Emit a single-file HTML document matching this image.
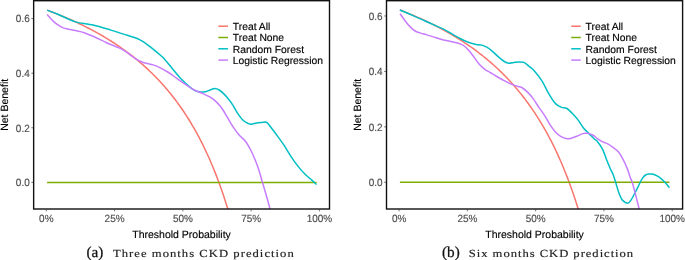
<!DOCTYPE html><html><head><meta charset="utf-8"><title>Decision curves</title>
<style>html,body{margin:0;padding:0;background:#fff}svg{display:block;will-change:transform}text{text-rendering:geometricPrecision}.ax{font-family:"Liberation Sans",Arial,sans-serif;font-size:10.5px;fill:#4d4d4d;stroke:#4d4d4d;stroke-width:0.15px}.tt{font-family:"Liberation Sans",Arial,sans-serif;font-size:10.5px;fill:#000;stroke:#000;stroke-width:0.14px}.lg{font-family:"Liberation Sans",Arial,sans-serif;font-size:10.35px;fill:#000;stroke:#000;stroke-width:0.15px}.tag{font-family:"Liberation Serif","Times New Roman",serif;font-size:15.2px;fill:#111;stroke:#111;stroke-width:0.25px}.cap{font-family:"Liberation Serif","Times New Roman",serif;font-size:10.8px;fill:#222;stroke:#222;stroke-width:0.15px}</style></head><body>
<svg width="685" height="260" viewBox="0 0 685 260">
<rect width="685" height="260" fill="#fff"/>
<clipPath id="c0"><rect x="33.65" y="0.70" width="295.85" height="208.30"/></clipPath>
<g clip-path="url(#c0)" fill="none" stroke-width="1.50" stroke-linejoin="round" stroke-linecap="butt">
<path d="M47.12,10.17 L48.48,10.67 L49.85,11.19 L51.22,11.71 L52.58,12.23 L53.95,12.76 L55.31,13.29 L56.68,13.83 L58.04,14.38 L59.41,14.93 L60.77,15.49 L62.14,16.05 L63.51,16.62 L64.87,17.19 L66.24,17.78 L67.60,18.36 L68.97,18.96 L70.33,19.56 L71.70,20.17 L73.06,20.78 L74.43,21.40 L75.79,22.03 L77.16,22.66 L78.53,23.30 L79.89,23.95 L81.26,24.61 L82.62,25.28 L83.99,25.95 L85.35,26.63 L86.72,27.32 L88.08,28.01 L89.45,28.72 L90.82,29.43 L92.18,30.15 L93.55,30.88 L94.91,31.62 L96.28,32.37 L97.64,33.12 L99.01,33.89 L100.37,34.67 L101.74,35.45 L103.10,36.25 L104.47,37.05 L105.84,37.87 L107.20,38.70 L108.57,39.53 L109.93,40.38 L111.30,41.24 L112.66,42.11 L114.03,43.00 L115.39,43.89 L116.76,44.80 L118.13,45.71 L119.49,46.65 L120.86,47.59 L122.22,48.55 L123.59,49.52 L124.95,50.50 L126.32,51.50 L127.68,52.51 L129.05,53.54 L130.41,54.58 L131.78,55.64 L133.15,56.71 L134.51,57.80 L135.88,58.90 L137.24,60.02 L138.61,61.16 L139.97,62.31 L141.34,63.49 L142.70,64.68 L144.07,65.89 L145.44,67.11 L146.80,68.36 L148.17,69.63 L149.53,70.92 L150.90,72.23 L152.26,73.56 L153.63,74.91 L154.99,76.28 L156.36,77.68 L157.72,79.10 L159.09,80.55 L160.46,82.02 L161.82,83.51 L163.19,85.04 L164.55,86.59 L165.92,88.16 L167.28,89.77 L168.65,91.40 L170.01,93.06 L171.38,94.76 L172.75,96.48 L174.11,98.24 L175.48,100.03 L176.84,101.86 L178.21,103.72 L179.57,105.62 L180.94,107.55 L182.30,109.53 L183.67,111.54 L185.03,113.60 L186.40,115.69 L187.77,117.83 L189.13,120.02 L190.50,122.25 L191.86,124.53 L193.23,126.85 L194.59,129.23 L195.96,131.67 L197.32,134.15 L198.69,136.69 L200.06,139.29 L201.42,141.96 L202.79,144.68 L204.15,147.47 L205.52,150.32 L206.88,153.24 L208.25,156.24 L209.61,159.31 L210.98,162.46 L212.34,165.69 L213.71,169.00 L215.08,172.39 L216.44,175.88 L217.81,179.46 L219.17,183.14 L220.54,186.92 L221.90,190.81 L223.27,194.81 L224.63,198.92 L226.00,203.15 L227.37,207.51 L228.73,212.00 L230.10,216.63" stroke="#F8766D"/>
<path d="M47.12,182.40 L316.67,182.40" stroke="#7CAE00"/>
<path d="M47.10,10.16 C48.87,10.84 52.98,12.29 57.70,14.24 C62.42,16.19 69.50,20.04 75.40,21.85 C81.30,23.66 87.20,23.72 93.10,25.10 C99.00,26.48 105.23,28.45 110.80,30.10 C116.37,31.75 122.10,33.60 126.50,35.00 C130.90,36.40 134.25,37.27 137.20,38.50 C140.15,39.73 141.55,40.63 144.20,42.40 C146.85,44.17 150.15,46.75 153.10,49.10 C156.05,51.45 159.85,54.65 161.90,56.50 C163.95,58.35 163.67,58.22 165.40,60.20 C167.13,62.18 169.87,65.47 172.30,68.40 C174.73,71.33 177.68,75.22 180.00,77.80 C182.32,80.38 184.40,82.22 186.20,83.90 C188.00,85.58 189.27,86.75 190.80,87.90 C192.33,89.05 193.87,90.12 195.40,90.80 C196.93,91.48 198.20,91.88 200.00,92.00 C201.80,92.12 204.40,91.88 206.20,91.50 C208.00,91.12 209.40,90.18 210.80,89.70 C212.20,89.22 213.20,88.55 214.60,88.60 C216.00,88.65 217.53,89.00 219.20,90.00 C220.87,91.00 222.90,92.90 224.60,94.60 C226.30,96.30 227.97,98.35 229.40,100.20 C230.83,102.05 231.90,103.62 233.20,105.70 C234.50,107.78 235.65,110.35 237.20,112.70 C238.75,115.05 240.73,118.03 242.50,119.80 C244.27,121.57 246.33,122.57 247.80,123.30 C249.27,124.03 249.83,124.25 251.30,124.20 C252.77,124.15 254.83,123.30 256.60,123.00 C258.37,122.70 260.42,122.55 261.90,122.40 C263.38,122.25 264.47,121.88 265.50,122.10 C266.53,122.32 266.92,122.47 268.10,123.70 C269.28,124.93 270.97,127.35 272.60,129.50 C274.23,131.65 275.95,133.92 277.90,136.60 C279.85,139.28 282.05,142.18 284.30,145.60 C286.55,149.02 289.03,153.55 291.40,157.10 C293.77,160.65 296.13,163.95 298.50,166.90 C300.87,169.85 303.38,172.60 305.60,174.80 C307.82,177.00 309.98,178.48 311.80,180.10 C313.62,181.72 315.72,183.77 316.50,184.50" stroke="#00BFC4"/>
<path d="M47.10,14.50 C48.28,15.77 51.85,20.03 54.20,22.10 C56.55,24.17 59.15,25.78 61.20,26.90 C63.25,28.02 64.13,28.18 66.50,28.80 C68.87,29.42 72.45,29.95 75.40,30.60 C78.35,31.25 81.25,31.75 84.20,32.70 C87.15,33.65 90.15,35.02 93.10,36.30 C96.05,37.58 99.28,39.15 101.90,40.40 C104.52,41.65 106.17,42.65 108.80,43.80 C111.43,44.95 115.33,46.30 117.70,47.30 C120.07,48.30 120.93,48.55 123.00,49.80 C125.07,51.05 128.03,53.32 130.10,54.80 C132.17,56.28 133.63,57.58 135.40,58.70 C137.17,59.82 138.93,60.73 140.70,61.50 C142.47,62.27 143.93,62.73 146.00,63.30 C148.07,63.87 150.97,64.27 153.10,64.90 C155.23,65.53 156.37,65.92 158.80,67.10 C161.23,68.28 164.75,70.15 167.70,72.00 C170.65,73.85 173.55,76.13 176.50,78.20 C179.45,80.27 182.45,82.43 185.40,84.40 C188.35,86.37 191.25,88.47 194.20,90.00 C197.15,91.53 200.43,92.40 203.10,93.60 C205.77,94.80 208.13,95.95 210.20,97.20 C212.27,98.45 213.88,99.68 215.50,101.10 C217.12,102.52 218.65,104.22 219.90,105.70 C221.15,107.18 221.60,107.80 223.00,110.00 C224.40,112.20 226.53,115.95 228.30,118.90 C230.07,121.85 231.83,125.05 233.60,127.70 C235.37,130.35 236.93,132.55 238.90,134.80 C240.87,137.05 243.43,138.67 245.40,141.20 C247.37,143.73 249.08,146.90 250.70,150.00 C252.32,153.10 253.77,156.55 255.10,159.80 C256.43,163.05 257.52,165.88 258.70,169.50 C259.88,173.12 260.88,177.00 262.20,181.50 C263.52,186.00 265.33,192.08 266.60,196.50 C267.87,200.92 269.18,205.75 269.80,208.00 C270.42,210.25 270.22,209.67 270.30,210.00" stroke="#C77CFF"/>
</g>
<rect x="33.65" y="0.70" width="295.85" height="208.30" fill="none" stroke="#111" stroke-width="1.4"/>
<path d="M46.30,209.50 v1.8" stroke="#333" stroke-width="0.7"/>
<text class="ax" transform="translate(46.30,222.0) scale(0.95,1)" text-anchor="middle">0%</text>
<path d="M114.58,209.50 v1.8" stroke="#333" stroke-width="0.7"/>
<text class="ax" transform="translate(114.58,222.0) scale(0.95,1)" text-anchor="middle">25%</text>
<path d="M182.85,209.50 v1.8" stroke="#333" stroke-width="0.7"/>
<text class="ax" transform="translate(182.85,222.0) scale(0.95,1)" text-anchor="middle">50%</text>
<path d="M251.12,209.50 v1.8" stroke="#333" stroke-width="0.7"/>
<text class="ax" transform="translate(251.12,222.0) scale(0.95,1)" text-anchor="middle">75%</text>
<path d="M319.40,209.50 v1.8" stroke="#333" stroke-width="0.7"/>
<text class="ax" transform="translate(319.40,222.0) scale(0.95,1)" text-anchor="middle">100%</text>
<path d="M33.15,182.40 h-1.8" stroke="#333" stroke-width="0.7"/>
<text class="ax" transform="translate(29.75,186.25) scale(0.95,1)" text-anchor="end">0.0</text>
<path d="M33.15,127.80 h-1.8" stroke="#333" stroke-width="0.7"/>
<text class="ax" transform="translate(29.75,131.65) scale(0.95,1)" text-anchor="end">0.2</text>
<path d="M33.15,73.20 h-1.8" stroke="#333" stroke-width="0.7"/>
<text class="ax" transform="translate(29.75,77.05) scale(0.95,1)" text-anchor="end">0.4</text>
<path d="M33.15,18.60 h-1.8" stroke="#333" stroke-width="0.7"/>
<text class="ax" transform="translate(29.75,22.45) scale(0.95,1)" text-anchor="end">0.6</text>
<text class="tt" x="181.57" y="237.7" text-anchor="middle">Threshold Probability</text>
<text class="tt" transform="translate(8.35,104.85) rotate(-90)" text-anchor="middle">Net Benefit</text>
<path d="M218.35,26.20 h9.6" stroke="#F8766D" stroke-width="1.50"/>
<text class="lg" x="232.75" y="29.90">Treat All</text>
<path d="M218.35,37.50 h9.6" stroke="#7CAE00" stroke-width="1.50"/>
<text class="lg" x="232.75" y="41.20">Treat None</text>
<path d="M218.35,48.80 h9.6" stroke="#00BFC4" stroke-width="1.50"/>
<text class="lg" x="232.75" y="52.50">Random Forest</text>
<path d="M218.35,60.10 h9.6" stroke="#C77CFF" stroke-width="1.50"/>
<text class="lg" x="232.75" y="63.80">Logistic Regression</text>
<text class="tag" x="86.50" y="256.8">(a)</text>
<text class="cap" transform="translate(113.00,256.8) scale(1.170,1)" textLength="154.5" lengthAdjust="spacing">Three months CKD prediction</text>
<clipPath id="c1"><rect x="386.50" y="0.70" width="296.10" height="208.30"/></clipPath>
<g clip-path="url(#c1)" fill="none" stroke-width="1.50" stroke-linejoin="round" stroke-linecap="butt">
<path d="M399.92,10.00 L401.28,10.53 L402.65,11.07 L404.02,11.60 L405.38,12.15 L406.75,12.70 L408.11,13.26 L409.48,13.82 L410.84,14.39 L412.21,14.96 L413.57,15.54 L414.94,16.13 L416.31,16.72 L417.67,17.32 L419.04,17.92 L420.40,18.54 L421.77,19.15 L423.13,19.78 L424.50,20.41 L425.86,21.05 L427.23,21.70 L428.59,22.35 L429.96,23.01 L431.33,23.68 L432.69,24.36 L434.06,25.04 L435.42,25.73 L436.79,26.43 L438.15,27.14 L439.52,27.86 L440.88,28.58 L442.25,29.31 L443.62,30.06 L444.98,30.81 L446.35,31.57 L447.71,32.34 L449.08,33.11 L450.44,33.90 L451.81,34.70 L453.17,35.51 L454.54,36.33 L455.90,37.16 L457.27,37.99 L458.64,38.84 L460.00,39.70 L461.37,40.58 L462.73,41.46 L464.10,42.35 L465.46,43.26 L466.83,44.18 L468.19,45.11 L469.56,46.05 L470.93,47.01 L472.29,47.98 L473.66,48.96 L475.02,49.96 L476.39,50.97 L477.75,51.99 L479.12,53.03 L480.48,54.09 L481.85,55.15 L483.21,56.24 L484.58,57.34 L485.95,58.45 L487.31,59.59 L488.68,60.74 L490.04,61.90 L491.41,63.09 L492.77,64.29 L494.14,65.51 L495.50,66.75 L496.87,68.01 L498.24,69.29 L499.60,70.59 L500.97,71.91 L502.33,73.25 L503.70,74.61 L505.06,75.99 L506.43,77.40 L507.79,78.83 L509.16,80.29 L510.52,81.77 L511.89,83.27 L513.26,84.80 L514.62,86.36 L515.99,87.95 L517.35,89.56 L518.72,91.20 L520.08,92.87 L521.45,94.57 L522.81,96.30 L524.18,98.07 L525.55,99.86 L526.91,101.69 L528.28,103.56 L529.64,105.46 L531.01,107.40 L532.37,109.37 L533.74,111.39 L535.10,113.44 L536.47,115.54 L537.83,117.68 L539.20,119.86 L540.57,122.09 L541.93,124.36 L543.30,126.68 L544.66,129.06 L546.03,131.48 L547.39,133.96 L548.76,136.49 L550.12,139.08 L551.49,141.72 L552.86,144.43 L554.22,147.20 L555.59,150.04 L556.95,152.94 L558.32,155.91 L559.68,158.95 L561.05,162.07 L562.41,165.27 L563.78,168.54 L565.14,171.91 L566.51,175.35 L567.88,178.89 L569.24,182.52 L570.61,186.25 L571.97,190.08 L573.34,194.02 L574.70,198.06 L576.07,202.22 L577.43,206.51 L578.80,210.91 L580.17,215.45" stroke="#F8766D"/>
<path d="M399.92,182.30 L669.47,182.30" stroke="#7CAE00"/>
<path d="M399.80,9.96 C402.02,10.90 408.97,13.81 413.10,15.60 C417.23,17.39 420.77,18.98 424.60,20.70 C428.43,22.42 432.63,24.33 436.10,25.90 C439.57,27.47 442.57,28.63 445.40,30.10 C448.23,31.57 450.83,33.40 453.10,34.70 C455.37,36.00 457.08,36.90 459.00,37.90 C460.92,38.90 462.70,39.85 464.60,40.70 C466.50,41.55 468.48,42.38 470.40,43.00 C472.32,43.62 474.18,44.05 476.10,44.40 C478.02,44.75 480.05,44.60 481.90,45.10 C483.75,45.60 485.53,46.43 487.20,47.40 C488.87,48.37 489.93,49.23 491.90,50.90 C493.87,52.57 496.93,55.63 499.00,57.40 C501.07,59.17 502.67,60.52 504.30,61.50 C505.93,62.48 507.17,63.15 508.80,63.30 C510.43,63.45 512.33,62.63 514.10,62.40 C515.87,62.17 517.78,61.90 519.40,61.90 C521.02,61.90 522.18,61.67 523.80,62.40 C525.42,63.13 527.33,64.87 529.10,66.30 C530.87,67.73 532.27,68.57 534.40,71.00 C536.53,73.43 539.47,77.03 541.90,80.90 C544.33,84.77 546.93,90.65 549.00,94.20 C551.07,97.75 552.78,100.28 554.30,102.20 C555.82,104.12 556.73,104.80 558.10,105.70 C559.47,106.60 561.03,107.13 562.50,107.60 C563.97,108.07 565.13,107.40 566.90,108.50 C568.67,109.60 571.18,112.22 573.10,114.20 C575.02,116.18 576.63,118.05 578.40,120.40 C580.17,122.75 581.93,126.10 583.70,128.30 C585.47,130.50 587.23,131.82 589.00,133.60 C590.77,135.38 592.93,137.73 594.30,139.00 C595.67,140.27 595.83,139.50 597.20,141.20 C598.57,142.90 600.88,145.98 602.50,149.20 C604.12,152.42 605.65,157.37 606.90,160.50 C608.15,163.63 608.97,165.67 610.00,168.00 C611.03,170.33 612.13,172.05 613.10,174.50 C614.07,176.95 614.92,179.87 615.80,182.70 C616.68,185.53 617.38,188.70 618.40,191.50 C619.42,194.30 620.72,197.67 621.90,199.50 C623.08,201.33 624.47,201.90 625.50,202.50 C626.53,203.10 627.22,203.45 628.10,203.10 C628.98,202.75 629.77,201.88 630.80,200.40 C631.83,198.92 633.12,196.42 634.30,194.20 C635.48,191.98 636.72,189.47 637.90,187.10 C639.08,184.73 640.48,181.68 641.40,180.00 C642.32,178.32 642.70,177.83 643.40,177.00 C644.10,176.17 644.75,175.48 645.60,175.00 C646.45,174.52 647.52,174.27 648.50,174.10 C649.48,173.93 650.47,173.90 651.50,174.00 C652.53,174.10 653.43,174.18 654.70,174.70 C655.97,175.22 657.48,175.92 659.10,177.10 C660.72,178.28 662.68,180.03 664.40,181.80 C666.12,183.57 668.57,186.72 669.40,187.70" stroke="#00BFC4"/>
<path d="M400.10,13.80 C400.98,15.03 403.63,18.93 405.40,21.20 C407.17,23.47 408.93,25.68 410.70,27.40 C412.47,29.12 413.93,30.43 416.00,31.50 C418.07,32.57 420.45,32.98 423.10,33.80 C425.75,34.62 428.95,35.50 431.90,36.40 C434.85,37.30 437.85,38.38 440.80,39.20 C443.75,40.02 446.68,40.63 449.60,41.30 C452.52,41.97 455.97,42.50 458.30,43.20 C460.63,43.90 461.83,44.27 463.60,45.50 C465.37,46.73 467.13,48.62 468.90,50.60 C470.67,52.58 472.43,55.08 474.20,57.40 C475.97,59.72 477.72,62.52 479.50,64.50 C481.28,66.48 483.12,67.97 484.90,69.30 C486.68,70.63 488.37,71.38 490.20,72.50 C492.03,73.62 493.77,74.75 495.90,76.00 C498.03,77.25 500.63,78.73 503.00,80.00 C505.37,81.27 507.73,82.57 510.10,83.60 C512.47,84.63 515.13,85.47 517.20,86.20 C519.27,86.93 520.73,86.97 522.50,88.00 C524.27,89.03 526.03,90.63 527.80,92.40 C529.57,94.17 531.33,96.23 533.10,98.60 C534.87,100.97 536.45,103.72 538.40,106.60 C540.35,109.48 542.85,112.87 544.80,115.90 C546.75,118.93 548.33,122.13 550.10,124.80 C551.87,127.47 553.63,129.98 555.40,131.90 C557.17,133.82 558.93,135.22 560.70,136.30 C562.47,137.38 564.38,138.05 566.00,138.40 C567.62,138.75 568.63,138.75 570.40,138.40 C572.17,138.05 574.53,137.10 576.60,136.30 C578.67,135.50 581.02,134.10 582.80,133.60 C584.58,133.10 585.67,133.07 587.30,133.30 C588.93,133.53 590.83,134.07 592.60,135.00 C594.37,135.93 596.13,137.72 597.90,138.90 C599.67,140.08 601.55,141.28 603.20,142.10 C604.85,142.92 606.15,142.92 607.80,143.80 C609.45,144.68 611.33,146.07 613.10,147.40 C614.87,148.73 616.78,149.88 618.40,151.80 C620.02,153.72 621.32,156.10 622.80,158.90 C624.28,161.70 626.12,165.67 627.30,168.60 C628.48,171.53 629.02,174.02 629.90,176.50 C630.78,178.98 631.72,180.70 632.60,183.50 C633.48,186.30 634.17,189.30 635.20,193.30 C636.23,197.30 638.10,204.72 638.80,207.50 C639.50,210.28 639.30,209.58 639.40,210.00" stroke="#C77CFF"/>
</g>
<rect x="386.50" y="0.70" width="296.10" height="208.30" fill="none" stroke="#111" stroke-width="1.4"/>
<path d="M399.10,209.50 v1.8" stroke="#333" stroke-width="0.7"/>
<text class="ax" transform="translate(399.10,222.0) scale(0.95,1)" text-anchor="middle">0%</text>
<path d="M467.38,209.50 v1.8" stroke="#333" stroke-width="0.7"/>
<text class="ax" transform="translate(467.38,222.0) scale(0.95,1)" text-anchor="middle">25%</text>
<path d="M535.65,209.50 v1.8" stroke="#333" stroke-width="0.7"/>
<text class="ax" transform="translate(535.65,222.0) scale(0.95,1)" text-anchor="middle">50%</text>
<path d="M603.93,209.50 v1.8" stroke="#333" stroke-width="0.7"/>
<text class="ax" transform="translate(603.93,222.0) scale(0.95,1)" text-anchor="middle">75%</text>
<path d="M672.20,209.50 v1.8" stroke="#333" stroke-width="0.7"/>
<text class="ax" transform="translate(672.20,222.0) scale(0.95,1)" text-anchor="middle">100%</text>
<path d="M386.00,182.30 h-1.8" stroke="#333" stroke-width="0.7"/>
<text class="ax" transform="translate(382.60,186.15) scale(0.95,1)" text-anchor="end">0.0</text>
<path d="M386.00,126.86 h-1.8" stroke="#333" stroke-width="0.7"/>
<text class="ax" transform="translate(382.60,130.71) scale(0.95,1)" text-anchor="end">0.2</text>
<path d="M386.00,71.42 h-1.8" stroke="#333" stroke-width="0.7"/>
<text class="ax" transform="translate(382.60,75.27) scale(0.95,1)" text-anchor="end">0.4</text>
<path d="M386.00,15.98 h-1.8" stroke="#333" stroke-width="0.7"/>
<text class="ax" transform="translate(382.60,19.83) scale(0.95,1)" text-anchor="end">0.6</text>
<text class="tt" x="534.55" y="237.7" text-anchor="middle">Threshold Probability</text>
<text class="tt" transform="translate(361.20,104.85) rotate(-90)" text-anchor="middle">Net Benefit</text>
<path d="M571.20,26.20 h9.6" stroke="#F8766D" stroke-width="1.50"/>
<text class="lg" x="585.60" y="29.90">Treat All</text>
<path d="M571.20,37.50 h9.6" stroke="#7CAE00" stroke-width="1.50"/>
<text class="lg" x="585.60" y="41.20">Treat None</text>
<path d="M571.20,48.80 h9.6" stroke="#00BFC4" stroke-width="1.50"/>
<text class="lg" x="585.60" y="52.50">Random Forest</text>
<path d="M571.20,60.10 h9.6" stroke="#C77CFF" stroke-width="1.50"/>
<text class="lg" x="585.60" y="63.80">Logistic Regression</text>
<text class="tag" x="442.00" y="256.8">(b)</text>
<text class="cap" transform="translate(468.80,256.8) scale(1.170,1)" textLength="140.5" lengthAdjust="spacing">Six months CKD prediction</text>
</svg></body></html>
